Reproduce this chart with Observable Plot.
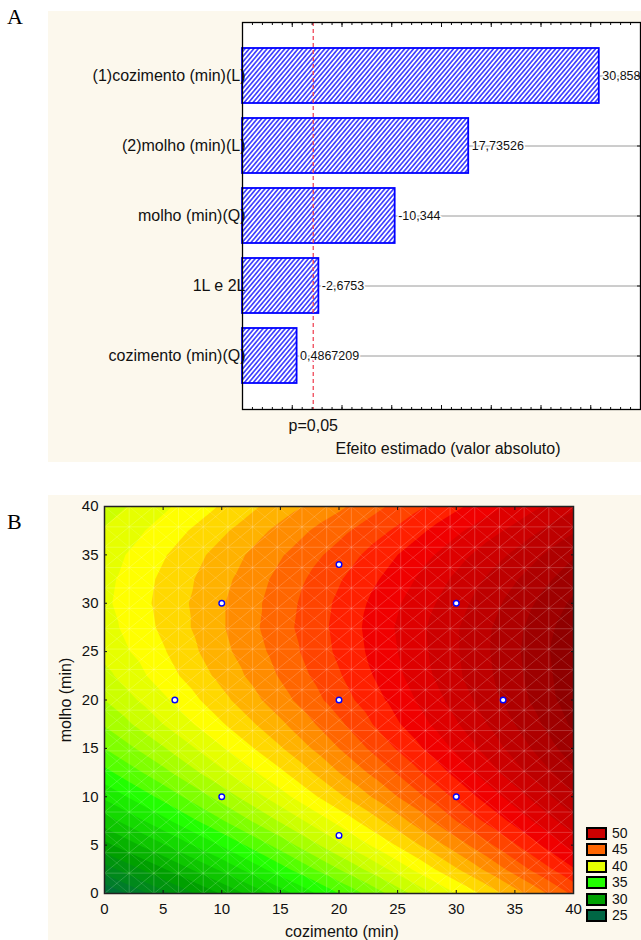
<!DOCTYPE html>
<html>
<head>
<meta charset="utf-8">
<script src="https://cdn.jsdelivr.net/npm/d3@7"></script>
<script src="https://cdn.jsdelivr.net/npm/@observablehq/plot@0.6"></script>
<style>
  html, body { margin: 0; padding: 0; background: #ffffff; }
  #root { position: relative; width: 641px; height: 940px; overflow: hidden; font-family: "Liberation Sans", Arial, sans-serif; }
  .letter { position: absolute; left: 7px; font-family: "Liberation Serif", "Times New Roman", serif; font-size: 22px; line-height: 22px; color: #000; }
  .legrow { position: absolute; left: 0; height: 13px; display: flex; align-items: center; }
  .legbox { width: 21px; height: 13px; box-sizing: border-box; border: 2px solid #000; flex: none; }
  .leglab { margin-left: 5px; font-size: 14px; color: #111; line-height: 13px; }
</style>
</head>
<body>
<div id="root"></div>
<script>
// ---------------- Panel A data (Pareto chart of effects) ----------------
const effectNames = ["(1)cozimento (min)(L)", "(2)molho (min)(L)", "molho (min)(Q)", "1L e 2L", "cozimento (min)(Q)"];
const effectValues = [30.858, 17.73526, -10.344, -2.6753, 0.4867209];
const effectAxisMin = -5;
const effectAxisMax = 35;
const pCritical = 2.11;
const pLabel = "p=0,05";
const effectAxisTitle = "Efeito estimado (valor absoluto)";

// ---------------- Panel B data (response surface) ----------------
const cozimentoGrid = [0, 5, 10, 15, 20, 25, 30, 35, 40];
const molhoGrid = [0, 2.5, 5, 7.5, 10, 12.5, 15, 17.5, 20, 22.5, 25, 27.5, 30, 32.5, 35, 37.5, 40];
const zAtMolho0    = [26.0, 28.7, 31.1, 33.5, 36.0, 38.5, 41.0, 43.6, 46.2];
const zAtMolho2_5  = [28.5, 30.9, 33.2, 35.6, 38.0, 40.4, 42.9, 45.4, 47.9];
const zAtMolho5    = [30.7, 32.9, 35.1, 37.4, 39.8, 42.1, 44.5, 46.9, 49.4];
const zAtMolho7_5  = [32.5, 34.7, 36.9, 39.1, 41.3, 43.6, 46.0, 48.3, 50.7];
const zAtMolho10   = [34.2, 36.3, 38.4, 40.6, 42.8, 45.0, 47.2, 49.5, 51.9];
const zAtMolho12_5 = [35.7, 37.7, 39.8, 41.8, 44.0, 46.1, 48.3, 50.6, 52.8];
const zAtMolho15   = [37.0, 38.9, 40.9, 42.9, 45.0, 47.1, 49.2, 51.4, 53.6];
const zAtMolho17_5 = [38.1, 40.0, 41.9, 43.8, 45.8, 47.9, 49.9, 52.0, 54.2];
const zAtMolho20   = [39.0, 40.8, 42.7, 44.6, 46.5, 48.4, 50.4, 52.5, 54.6];
const zAtMolho22_5 = [39.7, 41.5, 43.3, 45.1, 46.9, 48.8, 50.8, 52.7, 54.7];
const zAtMolho25   = [40.3, 41.9, 43.7, 45.4, 47.2, 49.0, 50.9, 52.8, 54.8];
const zAtMolho27_5 = [40.6, 42.2, 43.9, 45.6, 47.3, 49.1, 50.9, 52.7, 54.6];
const zAtMolho30   = [40.8, 42.3, 43.9, 45.5, 47.2, 48.9, 50.6, 52.4, 54.2];
const zAtMolho32_5 = [40.7, 42.2, 43.7, 45.3, 46.9, 48.5, 50.2, 51.9, 53.6];
const zAtMolho35   = [40.5, 41.9, 43.4, 44.9, 46.4, 48.0, 49.6, 51.2, 52.9];
const zAtMolho37_5 = [40.1, 41.4, 42.8, 44.3, 45.7, 47.2, 48.8, 50.3, 51.9];
const zAtMolho40   = [39.5, 40.8, 42.1, 43.5, 44.8, 46.3, 47.8, 49.3, 50.8];
const surfaceRows = [zAtMolho0, zAtMolho2_5, zAtMolho5, zAtMolho7_5, zAtMolho10, zAtMolho12_5, zAtMolho15,
                     zAtMolho17_5, zAtMolho20, zAtMolho22_5, zAtMolho25, zAtMolho27_5, zAtMolho30,
                     zAtMolho32_5, zAtMolho35, zAtMolho37_5, zAtMolho40];

const designCozimento = [6, 10, 10, 20, 20, 20, 30, 30, 34];
const designMolho     = [20, 10, 30, 6, 20, 34, 10, 30, 20];

const axisTicksB = [0, 5, 10, 15, 20, 25, 30, 35, 40];
const legendLevels = [50, 45, 40, 35, 30, 25];
const colorStops = [25, 30, 35, 36, 37, 38, 39, 40, 41, 42, 43, 44, 45, 46, 47, 48, 49, 50, 55];
const colorRange = ["#006644", "#00a000", "#22ff00", "#55ff00", "#80ff00", "#a8ff00", "#ccff00", "#e6ff00",
                    "#ffff00", "#ffd800", "#ffb200", "#ff8c00", "#ff6600", "#ff4400", "#ff2000", "#f00000",
                    "#de0000", "#cc0000", "#800000"];
const xLabelB = "cozimento (min)";
const yLabelB = "molho (min)";

// ---------------- shared style ----------------
const CREAM = "#fcf8ed";
const FONT = "'Liberation Sans', Arial, sans-serif";
const root = document.getElementById("root");

function place(el, left, top) {
  el.style.position = "absolute";
  el.style.left = left + "px";
  el.style.top = top + "px";
  root.appendChild(el);
  return el;
}

// ---------------- Panel A ----------------
const effectRows = effectNames.map((name, i) => ({
  name,
  size: Math.abs(effectValues[i]),
  label: String(effectValues[i]).replace(".", ",")
}));

const majorA = d3.range(effectAxisMin, effectAxisMax + 1, 5);
const minorA = d3.range(effectAxisMin, effectAxisMax + 1, 1);
const blank = () => "";

const chartA = Plot.plot({
  width: 593, height: 451,
  marginLeft: 194, marginRight: 1, marginTop: 11, marginBottom: 53,
  style: {background: CREAM, fontFamily: FONT, fontSize: "16px", color: "#111", overflow: "visible"},
  x: {domain: [effectAxisMin, effectAxisMax], label: null},
  y: {domain: effectNames, paddingInner: 0.22, paddingOuter: 0.35, label: null},
  marks: [
    Plot.frame({fill: "white"}),
    Plot.gridY({stroke: "#9a9a9a", strokeOpacity: 1}),
    Plot.barX(effectRows, {y: "name", x1: effectAxisMin, x2: "size", fill: "url(#hatchA)", stroke: "#0000ff", strokeWidth: 1.8}),
    Plot.ruleX([pCritical], {stroke: "#f04858", strokeWidth: 1.3, strokeDasharray: "4,3"}),
    Plot.axisY({anchor: "left", tickSize: 0, tickPadding: -3, fontSize: 16, label: null}),
    Plot.text(effectRows, {y: "name", x: "size", text: "label", textAnchor: "start", dx: 3, fontSize: 12.5, fill: "#111", stroke: "white", strokeWidth: 3}),
    Plot.axisX({anchor: "bottom", ticks: minorA, tickSize: -2, tickFormat: blank, label: null}),
    Plot.axisX({anchor: "bottom", ticks: majorA, tickSize: -4, tickFormat: blank, label: null}),
    Plot.axisX({anchor: "top", ticks: minorA, tickSize: -2, tickFormat: blank, label: null}),
    Plot.axisX({anchor: "top", ticks: majorA, tickSize: -4, tickFormat: blank, label: null}),
    Plot.axisX({anchor: "bottom", ticks: [pCritical], tickSize: 0, tickPadding: 10, tickFormat: () => pLabel, fontSize: 16, label: null}),
    Plot.axisY({anchor: "right", tickSize: -4, tickFormat: blank, label: null}),
    Plot.text([effectAxisTitle], {text: d => d, frameAnchor: "bottom", lineAnchor: "middle", textAnchor: "middle", dy: 39, dx: 6.5, fontSize: 16, fill: "#111"}),
    Plot.frame({stroke: "#000", strokeWidth: 1.3})
  ]
});

// hatch pattern for the bars
(function addHatch(svg) {
  const ns = "http://www.w3.org/2000/svg";
  const defs = document.createElementNS(ns, "defs");
  const pat = document.createElementNS(ns, "pattern");
  pat.setAttribute("id", "hatchA");
  pat.setAttribute("patternUnits", "userSpaceOnUse");
  pat.setAttribute("width", "3.4");
  pat.setAttribute("height", "3.4");
  pat.setAttribute("patternTransform", "rotate(40)");
  const bg = document.createElementNS(ns, "rect");
  bg.setAttribute("width", "3.4"); bg.setAttribute("height", "3.4"); bg.setAttribute("fill", "#ffffff");
  const ln = document.createElementNS(ns, "line");
  ln.setAttribute("x1", "1.7"); ln.setAttribute("y1", "-1"); ln.setAttribute("x2", "1.7"); ln.setAttribute("y2", "4.4");
  ln.setAttribute("stroke", "#2b2bff"); ln.setAttribute("stroke-width", "1.5");
  pat.appendChild(bg); pat.appendChild(ln); defs.appendChild(pat);
  svg.insertBefore(defs, svg.firstChild);
})(chartA.tagName.toLowerCase() === "svg" ? chartA : chartA.querySelector("svg"));

place(chartA, 48, 11);

// ---------------- Panel B ----------------
const surfacePoints = [];
molhoGrid.forEach((m, j) => cozimentoGrid.forEach((c, i) => surfacePoints.push({cozimento: c, molho: m, z: surfaceRows[j][i]})));
const designPoints = designCozimento.map((c, i) => ({cozimento: c, molho: designMolho[i]}));

// faint mesh of the fitted surface (decoration)
const meshN = 19;
const meshPos = d3.range(1, meshN).map(k => 40 * k / meshN);
const diagUp = d3.range(-(meshN - 1), meshN).map(k => {
  const c = 40 * k / meshN;
  return {x1: Math.max(0, c), y1: Math.max(0, -c), x2: Math.min(40, 40 + c), y2: Math.min(40, 40 - c)};
});
const diagDown = d3.range(1, 2 * meshN).map(k => {
  const c = 40 * k / meshN;
  return {x1: Math.max(0, c - 40), y1: Math.min(c, 40), x2: Math.min(40, c), y2: Math.max(c - 40, 0)};
});

const chartB = Plot.plot({
  width: 593, height: 445,
  marginLeft: 56, marginRight: 68, marginTop: 11, marginBottom: 47,
  style: {background: CREAM, fontFamily: FONT, fontSize: "15px", color: "#111", overflow: "visible"},
  x: {domain: [0, 40], label: null},
  y: {domain: [0, 40], label: null},
  color: {type: "linear", domain: colorStops, range: colorRange, clamp: true},
  marks: [
    Plot.contour(surfacePoints, {x: "cozimento", y: "molho", fill: "z", interpolate: "barycentric", interval: 1, pixelSize: 1}),
    Plot.ruleX(meshPos, {stroke: "white", strokeOpacity: 0.2, strokeWidth: 1}),
    Plot.ruleY(meshPos, {stroke: "white", strokeOpacity: 0.2, strokeWidth: 1}),
    Plot.link(diagUp, {x1: "x1", y1: "y1", x2: "x2", y2: "y2", stroke: "white", strokeOpacity: 0.18, strokeWidth: 1}),
    Plot.link(diagDown, {x1: "x1", y1: "y1", x2: "x2", y2: "y2", stroke: "white", strokeOpacity: 0.12, strokeWidth: 1}),
    Plot.dot(designPoints, {x: "cozimento", y: "molho", r: 2.8, fill: "white", stroke: "#0000ff", strokeWidth: 1.4}),
    Plot.axisX({anchor: "bottom", ticks: axisTicksB, tickSize: 0, tickPadding: 10, fontSize: 15, label: null}),
    Plot.axisX({anchor: "bottom", ticks: axisTicksB, tickSize: -3, tickFormat: blank, label: null}),
    Plot.axisX({anchor: "top", ticks: axisTicksB, tickSize: -3, tickFormat: blank, label: null}),
    Plot.axisY({anchor: "left", ticks: axisTicksB, tickSize: 0, tickPadding: 6, fontSize: 15, label: null}),
    Plot.axisY({anchor: "left", ticks: axisTicksB, tickSize: -3, tickFormat: blank, label: null}),
    Plot.axisY({anchor: "right", ticks: axisTicksB, tickSize: -3, tickFormat: blank, label: null}),
    Plot.text([xLabelB], {text: d => d, frameAnchor: "bottom", lineAnchor: "middle", textAnchor: "middle", dy: 38, dx: 3, fontSize: 16, fill: "#111"}),
    Plot.text([yLabelB], {text: d => d, frameAnchor: "left", lineAnchor: "middle", textAnchor: "middle", dx: -38.5, rotate: -90, fontSize: 16, fill: "#111"}),
    Plot.frame({stroke: "#222", strokeWidth: 1.5})
  ]
});
place(chartB, 48, 495);

// legend for panel B
const colorScale = chartB.scale("color");
const legend = document.createElement("div");
legend.style.width = "50px";
legend.style.height = "100px";
legendLevels.forEach((v, i) => {
  const row = document.createElement("div");
  row.className = "legrow";
  row.style.top = (i * 16.4) + "px";
  const box = document.createElement("div");
  box.className = "legbox";
  box.style.background = colorScale.apply(v);
  const lab = document.createElement("span");
  lab.className = "leglab";
  lab.textContent = String(v);
  row.appendChild(box); row.appendChild(lab);
  legend.appendChild(row);
});
place(legend, 586, 827);

// panel letters
const letterA = document.createElement("div"); letterA.className = "letter"; letterA.textContent = "A";
place(letterA, 7, 6);
const letterB = document.createElement("div"); letterB.className = "letter"; letterB.textContent = "B";
place(letterB, 7, 511);
</script>
</body>
</html>
